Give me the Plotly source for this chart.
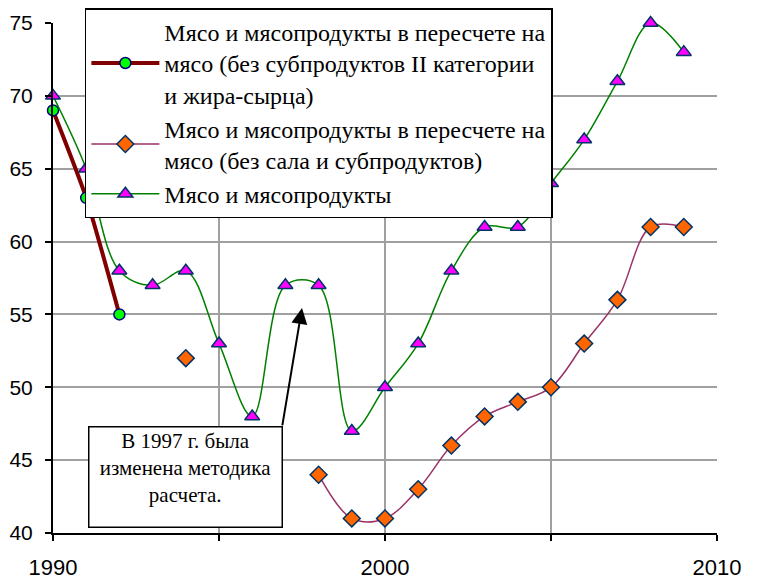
import plotly.graph_objects as go

# Series values (None = no data)
s1_years = [1990, 1991, 1992]
s1_vals = [69, 63, 55]

s2_years = [1994, 1995, 1996, 1997, 1998, 1999, 2000, 2001, 2002, 2003, 2004, 2005, 2006, 2007, 2008, 2009]
s2_vals = [52, None, None, None, 44, 41, 41, 43, 46, 48, 49, 50, 53, 56, 61, 61]

s3_years = list(range(1990, 2010))
s3_vals = [70, 65, 58, 57, 58, 53, 48, 57, 57, 47, 50, 53, 58, 61, 61, 64, 67, 71, 75, 73]

names = [
    "Мясо и мясопродукты в пересчете на<br>мясо (без субпродуктов II категории<br>и жира-сырца)",
    "Мясо и мясопродукты в пересчете на<br>мясо (без сала и субпродуктов)",
    "Мясо и мясопродукты",
]

x_tickvals = [1990, 1995, 2000, 2005, 2010]
x_ticktext = ["1990", "", "2000", "", "2010"]
y_tickvals = [40, 45, 50, 55, 60, 65, 70, 75]

note_text = "В 1997 г. была<br>изменена методика<br>расчета."

SERIF = "Liberation Serif, Times New Roman, serif"
SANS = "Liberation Sans, Arial, sans-serif"

fig = go.Figure()

fig.add_trace(go.Scatter(
    x=s1_years, y=s1_vals, name=names[0], mode="lines+markers",
    line=dict(color="#800000", width=4, shape="spline", smoothing=0.6),
    marker=dict(symbol="circle", size=11, color="#00ff00",
                line=dict(color="#000080", width=1.5)),
    cliponaxis=False,
))
fig.add_trace(go.Scatter(
    x=s2_years, y=s2_vals, name=names[1], mode="lines+markers",
    connectgaps=False,
    line=dict(color="#993366", width=1.5, shape="spline", smoothing=1),
    marker=dict(symbol="diamond", size=13, color="#ff6600",
                line=dict(color="#003366", width=1.5)),
    cliponaxis=False,
))
fig.add_trace(go.Scatter(
    x=s3_years, y=s3_vals, name=names[2], mode="lines+markers",
    line=dict(color="#008000", width=1.5, shape="spline", smoothing=1),
    marker=dict(symbol="triangle-up", size=13, color="#ff00ff",
                line=dict(color="#003366", width=1.5)),
    cliponaxis=False,
))

# note box
fig.add_annotation(
    x=1993.98, y=43.85, xref="x", yref="y",
    text=note_text, showarrow=False,
    font=dict(family=SERIF, size=21, color="black"),
    align="center", valign="top",
    width=190, height=97,
    bordercolor="black", borderwidth=1.5, borderpad=1,
    bgcolor="white",
)
# arrow
fig.add_annotation(
    x=1997.5, y=55.44, xref="x", yref="y",
    ax=1996.9, ay=47.28, axref="x", ayref="y",
    text="", showarrow=True, arrowhead=2, arrowsize=1.6, arrowwidth=2,
    arrowcolor="black", standoff=0,
)

fig.update_layout(
    width=753, height=575,
    margin=dict(l=45, r=44, t=15, b=50, autoexpand=False),
    paper_bgcolor="white", plot_bgcolor="white",
    font=dict(family=SANS, color="black"),
    legend=dict(
        x=0.048, y=1.029, xanchor="left", yanchor="top",
        bgcolor="white", bordercolor="black", borderwidth=1.5,
        font=dict(family=SERIF, size=24, color="black"),
        itemwidth=68, tracegroupgap=0,
    ),
    xaxis=dict(
        range=[1990, 2010], tickvals=x_tickvals, ticktext=x_ticktext,
        showgrid=True, gridcolor="#a0a0a0", gridwidth=2,
        showline=True, linecolor="black", linewidth=2,
        ticks="outside", ticklen=6, tickcolor="black", tickwidth=2,
        tickfont=dict(family=SANS, size=22, color="black"),
        ticklabelstandoff=8, zeroline=False, automargin=False,
    ),
    yaxis=dict(
        range=[40, 75], tickvals=y_tickvals,
        showgrid=True, gridcolor="#a0a0a0", gridwidth=2,
        showline=True, linecolor="black", linewidth=2,
        ticks="outside", ticklen=6, tickcolor="black", tickwidth=2,
        tickfont=dict(family=SANS, size=21, color="black"),
        ticklabelstandoff=8, zeroline=False, automargin=False,
    ),
)

fig.write_html("out.html")
